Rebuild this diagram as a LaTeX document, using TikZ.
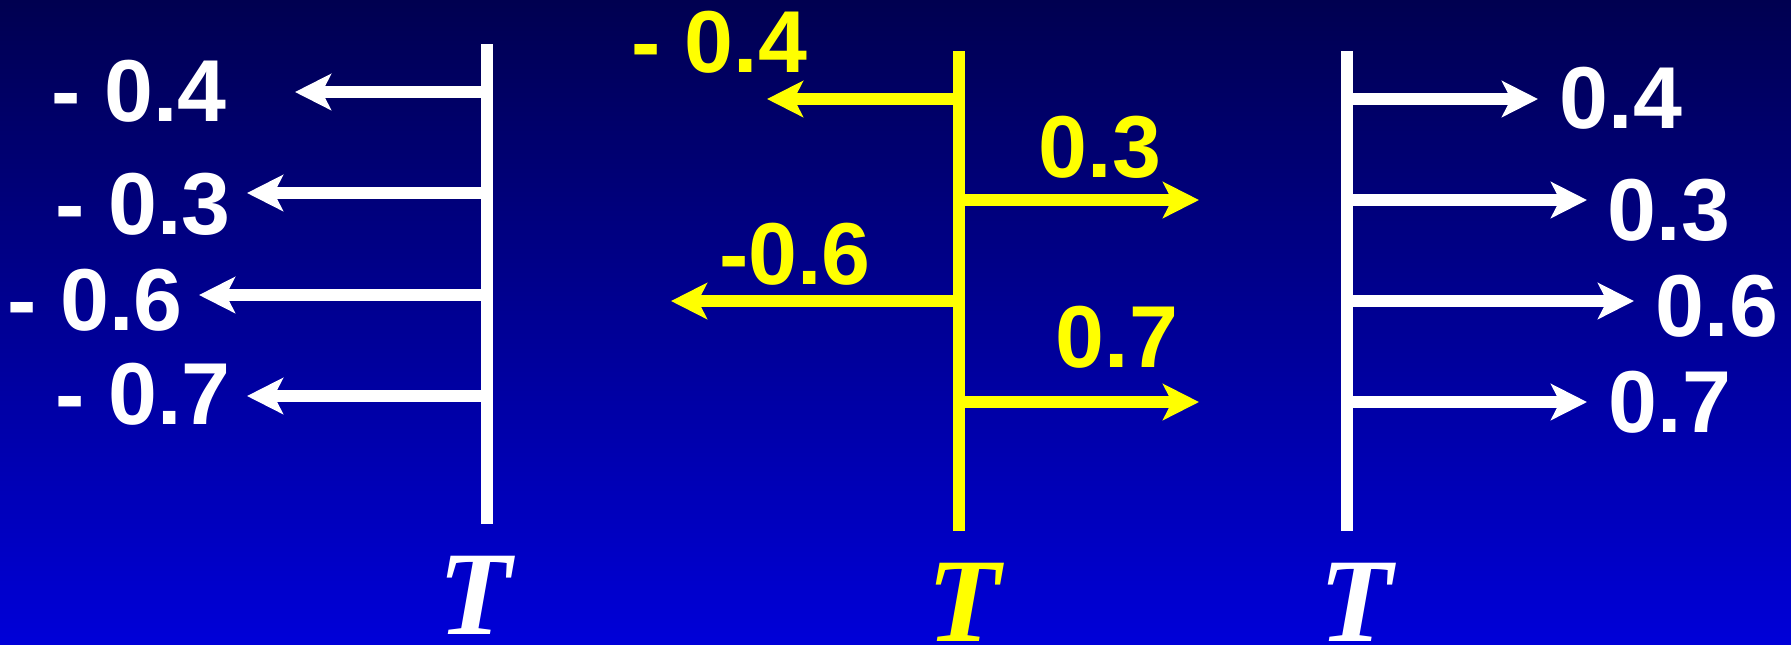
\documentclass[tikz,border=0pt]{standalone}
\usepackage{fontspec}
\setmainfont{Liberation Sans}
\newfontfamily\tfont{Liberation Serif}
\usepackage{tikz}
\usetikzlibrary{arrows.meta, positioning, calc}
\definecolor{bgtop}{RGB}{0,0,80}
\definecolor{bgbot}{RGB}{0,0,216}
\definecolor{myyellow}{RGB}{255,255,0}
\tikzset{
  num/.style={font=\fontsize{25}{30}\selectfont\bfseries, text=white,
    inner sep=0pt},
  ynum/.style={num, text=myyellow},
  tlabel/.style={font=\tfont\fontsize{34}{40}\selectfont\bfseries\itshape,
    text=white, inner sep=0pt},
  axis/.style={line width=0.12cm, color=white},
  vec/.style={-{Stealth[length=0.36cm, width=0.36cm, inset=0.09cm]},
    line width=0.12cm, color=white},
  yaxis/.style={axis, color=myyellow},
  yvec/.style={vec, color=myyellow}
}

\begin{document}
\begin{tikzpicture}[x=0.01cm, y=-0.01cm]
  % background
  \shade[top color=bgtop, bottom color=bgbot] (0,0) rectangle (1791,644);
  \useasboundingbox (0,0) rectangle (1791,644);

  % left: all arrows to the left
  \coordinate (Ltop) at (487,44);
  \coordinate (Lbot) at (487,524);
  \draw[axis] (Ltop) -- (Lbot);
  \coordinate (La) at (487,92);  \coordinate (Lat) at (295,92);
  \coordinate (Lb) at (487,193); \coordinate (Lbt) at (247,193);
  \coordinate (Lc) at (487,295); \coordinate (Lct) at (199,295);
  \coordinate (Ld) at (487,396); \coordinate (Ldt) at (247,396);
  \draw[vec] (La) -- (Lat);
  \draw[vec] (Lb) -- (Lbt);
  \draw[vec] (Lc) -- (Lct);
  \draw[vec] (Ld) -- (Ldt);
  \node[num] (Lna) at (139,91)  {- 0.4};
  \node[num] (Lnb) at (143,204) {- 0.3};
  \node[num] (Lnc) at (95,300)  {- 0.6};
  \node[num] (Lnd) at (143,394) {- 0.7};
  \node[tlabel] (LT) at (475,595) {T};

  % middle: mixed, yellow
  \coordinate (Mtop) at (959,51);
  \coordinate (Mbot) at (959,531);
  \draw[yaxis] (Mtop) -- (Mbot);
  \coordinate (Ma) at (959,99);  \coordinate (Mat) at (767,99);
  \coordinate (Mb) at (959,200); \coordinate (Mbt) at (1199,200);
  \coordinate (Mc) at (959,301); \coordinate (Mct) at (671,301);
  \coordinate (Md) at (959,402); \coordinate (Mdt) at (1199,402);
  \draw[yvec] (Ma) -- (Mat);
  \draw[yvec] (Mb) -- (Mbt);
  \draw[yvec] (Mc) -- (Mct);
  \draw[yvec] (Md) -- (Mdt);
  \node[ynum] (Mna) at (719,42)   {- 0.4};
  \node[ynum] (Mnb) at (1100,147) {0.3};
  \node[ynum] (Mnc) at (795,254)  {-0.6};
  \node[ynum] (Mnd) at (1117,337) {0.7};
  \node[tlabel, text=myyellow] (MT) at (964,602) {T};

  % right: all arrows to the right
  \coordinate (Rtop) at (1347,51);
  \coordinate (Rbot) at (1347,531);
  \draw[axis] (Rtop) -- (Rbot);
  \coordinate (Ra) at (1347,99);  \coordinate (Rat) at (1538,99);
  \coordinate (Rb) at (1347,200); \coordinate (Rbt) at (1587,200);
  \coordinate (Rc) at (1347,301); \coordinate (Rct) at (1634,301);
  \coordinate (Rd) at (1347,402); \coordinate (Rdt) at (1587,402);
  \draw[vec] (Ra) -- (Rat);
  \draw[vec] (Rb) -- (Rbt);
  \draw[vec] (Rc) -- (Rct);
  \draw[vec] (Rd) -- (Rdt);
  \node[num] (Rna) at (1621,98)  {0.4};
  \node[num] (Rnb) at (1669,210) {0.3};
  \node[num] (Rnc) at (1717,306) {0.6};
  \node[num] (Rnd) at (1670,402) {0.7};
  \node[tlabel] (RT) at (1356,602) {T};
\end{tikzpicture}
\end{document}
